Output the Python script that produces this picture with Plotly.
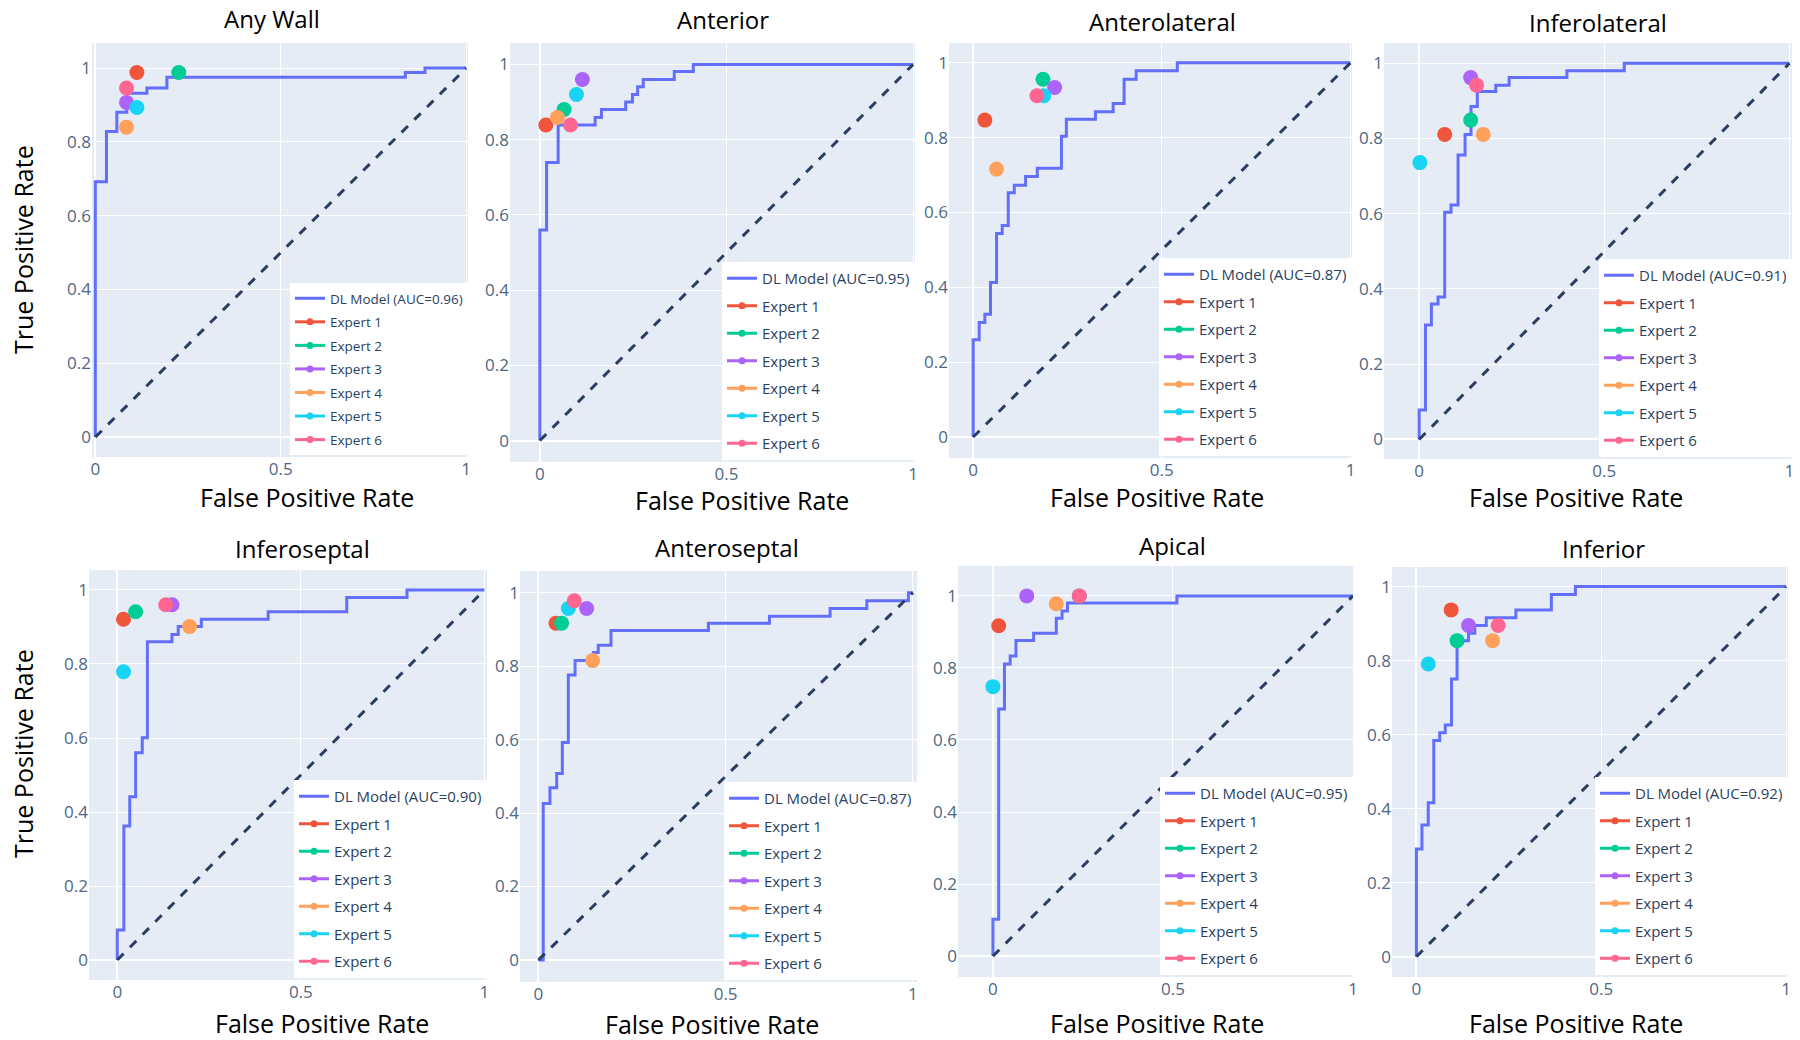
import plotly.graph_objects as go

# ---------------- data ----------------
panel_titles = ["Any Wall", "Anterior", "Anterolateral", "Inferolateral",
                "Inferoseptal", "Anteroseptal", "Apical", "Inferior"]
auc_values = [0.96, 0.95, 0.87, 0.91, 0.90, 0.87, 0.95, 0.92]
expert_names = ["Expert 1", "Expert 2", "Expert 3", "Expert 4", "Expert 5", "Expert 6"]

# ROC step corners (drawn with horizontal-then-vertical steps)
any_wall_fpr = [0, 0, 0.030, 0.058, 0.085, 0.139, 0.193, 0.836, 0.889, 1.0]
any_wall_tpr = [0, 0.692, 0.828, 0.880, 0.932, 0.946, 0.975, 0.988, 1.0, 1.0]

anterior_fpr = [0, 0, 0.018, 0.049, 0.148, 0.165, 0.230, 0.248, 0.262, 0.277, 0.360, 0.411, 1.0]
anterior_tpr = [0, 0.560, 0.739, 0.839, 0.859, 0.880, 0.900, 0.920, 0.941, 0.960, 0.981, 1.0, 1.0]

anterolateral_fpr = [0, 0, 0.016, 0.031, 0.046, 0.062, 0.077, 0.093, 0.109, 0.139, 0.170,
                     0.234, 0.247, 0.324, 0.371, 0.400, 0.432, 0.541, 1.0]
anterolateral_tpr = [0, 0.260, 0.306, 0.328, 0.413, 0.544, 0.565, 0.653, 0.673, 0.696, 0.718,
                     0.804, 0.849, 0.869, 0.891, 0.956, 0.979, 1.0, 1.0]

inferolateral_fpr = [0, 0, 0.017, 0.033, 0.051, 0.069, 0.086, 0.105, 0.124, 0.140, 0.157,
                     0.207, 0.243, 0.399, 0.554, 1.0]
inferolateral_tpr = [0, 0.078, 0.304, 0.360, 0.379, 0.604, 0.623, 0.756, 0.811, 0.885, 0.925,
                     0.942, 0.962, 0.980, 1.0, 1.0]

inferoseptal_fpr = [0, 0, 0.018, 0.034, 0.050, 0.068, 0.082, 0.149, 0.166, 0.229, 0.411,
                    0.625, 0.789, 1.0]
inferoseptal_tpr = [0, 0.081, 0.362, 0.441, 0.560, 0.601, 0.860, 0.880, 0.901, 0.921, 0.941,
                    0.980, 1.0, 1.0]

anteroseptal_fpr = [0, 0.013, 0.031, 0.049, 0.064, 0.080, 0.098, 0.147, 0.160, 0.194, 0.454,
                    0.617, 0.779, 0.877, 0.988, 1.0]
anteroseptal_tpr = [0, 0.426, 0.469, 0.508, 0.592, 0.776, 0.815, 0.837, 0.857, 0.897, 0.917,
                    0.936, 0.957, 0.978, 1.0, 1.0]

apical_fpr = [0, 0, 0.016, 0.032, 0.048, 0.064, 0.113, 0.176, 0.192, 0.207, 0.511, 1.0]
apical_tpr = [0, 0.102, 0.686, 0.811, 0.833, 0.876, 0.896, 0.938, 0.958, 0.980, 1.0, 1.0]

inferior_fpr = [0, 0, 0.015, 0.032, 0.047, 0.063, 0.078, 0.095, 0.110, 0.141, 0.158, 0.189,
                0.269, 0.365, 0.430, 1.0]
inferior_tpr = [0, 0.291, 0.356, 0.416, 0.584, 0.605, 0.626, 0.750, 0.854, 0.874, 0.895, 0.916,
                0.937, 0.979, 1.0, 1.0]

# Expert operating points (Expert 1..6)
any_wall_exp_fpr = [0.112, 0.225, 0.084, 0.084, 0.112, 0.084]
any_wall_exp_tpr = [0.988, 0.988, 0.907, 0.840, 0.893, 0.946]
anterior_exp_fpr = [0.016, 0.065, 0.114, 0.047, 0.098, 0.082]
anterior_exp_tpr = [0.839, 0.880, 0.960, 0.859, 0.920, 0.839]
anterolateral_exp_fpr = [0.031, 0.185, 0.216, 0.062, 0.187, 0.169]
anterolateral_exp_tpr = [0.847, 0.956, 0.934, 0.716, 0.912, 0.912]
inferolateral_exp_fpr = [0.069, 0.139, 0.139, 0.173, 0.002, 0.155]
inferolateral_exp_tpr = [0.811, 0.849, 0.962, 0.811, 0.736, 0.942]
inferoseptal_exp_fpr = [0.017, 0.050, 0.149, 0.197, 0.017, 0.132]
inferoseptal_exp_tpr = [0.921, 0.941, 0.960, 0.901, 0.779, 0.960]
anteroseptal_exp_fpr = [0.047, 0.062, 0.129, 0.145, 0.080, 0.096]
anteroseptal_exp_tpr = [0.917, 0.917, 0.957, 0.815, 0.957, 0.978]
apical_exp_fpr = [0.016, 0.240, 0.094, 0.176, 0.000, 0.240]
apical_exp_tpr = [0.917, 1.000, 1.000, 0.978, 0.748, 1.000]
inferior_exp_fpr = [0.094, 0.110, 0.141, 0.206, 0.032, 0.221]
inferior_exp_tpr = [0.937, 0.854, 0.895, 0.854, 0.791, 0.895]

x_tick_vals = [0, 0.5, 1]
x_tick_text = ["0", "0.5", "1"]
y_tick_vals = [0, 0.2, 0.4, 0.6, 0.8, 1]
y_tick_text = ["0", "0.2", "0.4", "0.6", "0.8", "1"]

roc_fpr = [any_wall_fpr, anterior_fpr, anterolateral_fpr, inferolateral_fpr,
           inferoseptal_fpr, anteroseptal_fpr, apical_fpr, inferior_fpr]
roc_tpr = [any_wall_tpr, anterior_tpr, anterolateral_tpr, inferolateral_tpr,
           inferoseptal_tpr, anteroseptal_tpr, apical_tpr, inferior_tpr]
exp_fpr = [any_wall_exp_fpr, anterior_exp_fpr, anterolateral_exp_fpr, inferolateral_exp_fpr,
           inferoseptal_exp_fpr, anteroseptal_exp_fpr, apical_exp_fpr, inferior_exp_fpr]
exp_tpr = [any_wall_exp_tpr, anterior_exp_tpr, anterolateral_exp_tpr, inferolateral_exp_tpr,
           inferoseptal_exp_tpr, anteroseptal_exp_tpr, apical_exp_tpr, inferior_exp_tpr]

# ---------------- layout (pixel geometry of the 1800x1040 canvas) ----------------
W, H = 1800, 1040
# plot area boxes: left, right, top, bottom
boxes = [(92, 468, 43, 457), (510, 915, 43, 462), (949, 1352, 43, 458), (1384, 1792, 43, 459),
         (89, 487, 570, 980), (520, 917, 571, 982), (958, 1353, 566, 977), (1392, 1788, 567, 977)]
x_ranges = [[-0.009, 1.005], [-0.08, 1.005], [-0.064, 1.004], [-0.095, 1.007],
            [-0.077, 1.007], [-0.049, 1.011], [-0.097, 1.0], [-0.066, 1.005]]
y_ranges = [[-0.054, 1.068], [-0.057, 1.057], [-0.056, 1.053], [-0.052, 1.054],
            [-0.054, 1.054], [-0.060, 1.059], [-0.058, 1.083], [-0.055, 1.053]]
title_pos = [(272, 18), (723, 19), (1162, 21), (1598, 22),
             (302, 548), (727, 547), (1172, 545), (1603, 548)]
xtitle_pos = [(307, 497), (742, 500), (1157, 497), (1576, 497),
              (322, 1023), (712, 1024), (1157, 1023), (1576, 1023)]
ytitle_pos = [(23, 250), (23, 754)]
legend_font = [13.5, 15, 15, 15, 15, 15, 15, 15]
legend_gap = [3, 5, 5, 5, 5, 5, 5, 5]

colors = ["#EF553B", "#00CC96", "#AB63FA", "#FFA15A", "#19D3F3", "#FF6692"]
model_color = "#636EFA"
diag_color = "#2a3f5f"

fig = go.Figure()
layout = dict(
    width=W, height=H,
    margin=dict(l=0, r=0, t=0, b=0),
    paper_bgcolor="white",
    plot_bgcolor="#E5ECF6",
    font=dict(family="Open Sans", color="#2a3f5f"),
    showlegend=True,
    annotations=[],
)

for i in range(8):
    k = "" if i == 0 else str(i + 1)
    xa, ya = "x" + k, "y" + k
    leg = "legend" + k
    l, r, t, b = boxes[i]
    axis_common = dict(
        showgrid=True, gridcolor="white", gridwidth=1,
        zeroline=True, zerolinecolor="white", zerolinewidth=2,
        tickfont=dict(size=17, color="#506784"), automargin=False,
        showline=False, ticks="",
    )
    layout["xaxis" + k] = dict(
        domain=[l / W, r / W], range=x_ranges[i], anchor=ya,
        tickvals=x_tick_vals, ticktext=x_tick_text, **axis_common,
    )
    layout["yaxis" + k] = dict(
        domain=[1 - b / H, 1 - t / H], range=y_ranges[i], anchor=xa,
        tickvals=y_tick_vals, ticktext=y_tick_text, **axis_common,
    )
    layout[leg] = dict(
        x=r / W, y=1 - (b - 2) / H, xanchor="right", yanchor="bottom",
        xref="paper", yref="paper",
        bgcolor="white", borderwidth=0,
        font=dict(size=legend_font[i], color="#2a3f5f", family="Open Sans"),
        tracegroupgap=legend_gap[i],
    )

    fig.add_trace(go.Scatter(
        x=roc_fpr[i], y=roc_tpr[i], mode="lines", line_shape="hv",
        line=dict(color=model_color, width=3),
        name=f"DL Model (AUC={auc_values[i]:.2f})",
        xaxis=xa, yaxis=ya, legend=leg, legendgroup=f"m{i}",
    ))
    fig.add_trace(go.Scatter(
        x=[0, 1], y=[0, 1], mode="lines",
        line=dict(color=diag_color, width=3, dash="dash"),
        showlegend=False, xaxis=xa, yaxis=ya, hoverinfo="skip",
    ))
    for j in range(6):
        # operating point on the plot
        fig.add_trace(go.Scatter(
            x=[exp_fpr[i][j]], y=[exp_tpr[i][j]], mode="markers",
            marker=dict(color=colors[j], size=15),
            name=expert_names[j], xaxis=xa, yaxis=ya,
            showlegend=False, legendgroup=f"e{i}_{j}",
        ))
        # legend entry (line with small dot)
        fig.add_trace(go.Scatter(
            x=[None], y=[None], mode="lines+markers",
            marker=dict(color=colors[j], size=7),
            line=dict(color=colors[j], width=3),
            name=expert_names[j], xaxis=xa, yaxis=ya, legend=leg,
            legendgroup=f"e{i}_{j}",
        ))

    tx, ty = title_pos[i]
    layout["annotations"].append(dict(
        text=panel_titles[i], x=tx / W, y=1 - ty / H, xref="paper", yref="paper",
        xanchor="center", yanchor="middle", showarrow=False,
        font=dict(size=24, color="black", family="Open Sans"),
    ))
    ax_, ay_ = xtitle_pos[i]
    layout["annotations"].append(dict(
        text="False Positive Rate", x=ax_ / W, y=1 - ay_ / H, xref="paper", yref="paper",
        xanchor="center", yanchor="middle", showarrow=False,
        font=dict(size=25, color="black", family="Open Sans"),
    ))

for (yx, yy) in ytitle_pos:
    layout["annotations"].append(dict(
        text="True Positive Rate", x=yx / W, y=1 - yy / H, xref="paper", yref="paper",
        xanchor="center", yanchor="middle", showarrow=False, textangle=-90,
        font=dict(size=25, color="black", family="Open Sans"),
    ))

fig.update_layout(**layout)
fig.write_html(
    "out.html",
    config={"displayModeBar": False},
    post_script="document.body.style.margin='0';document.body.style.overflow='hidden';",
)
